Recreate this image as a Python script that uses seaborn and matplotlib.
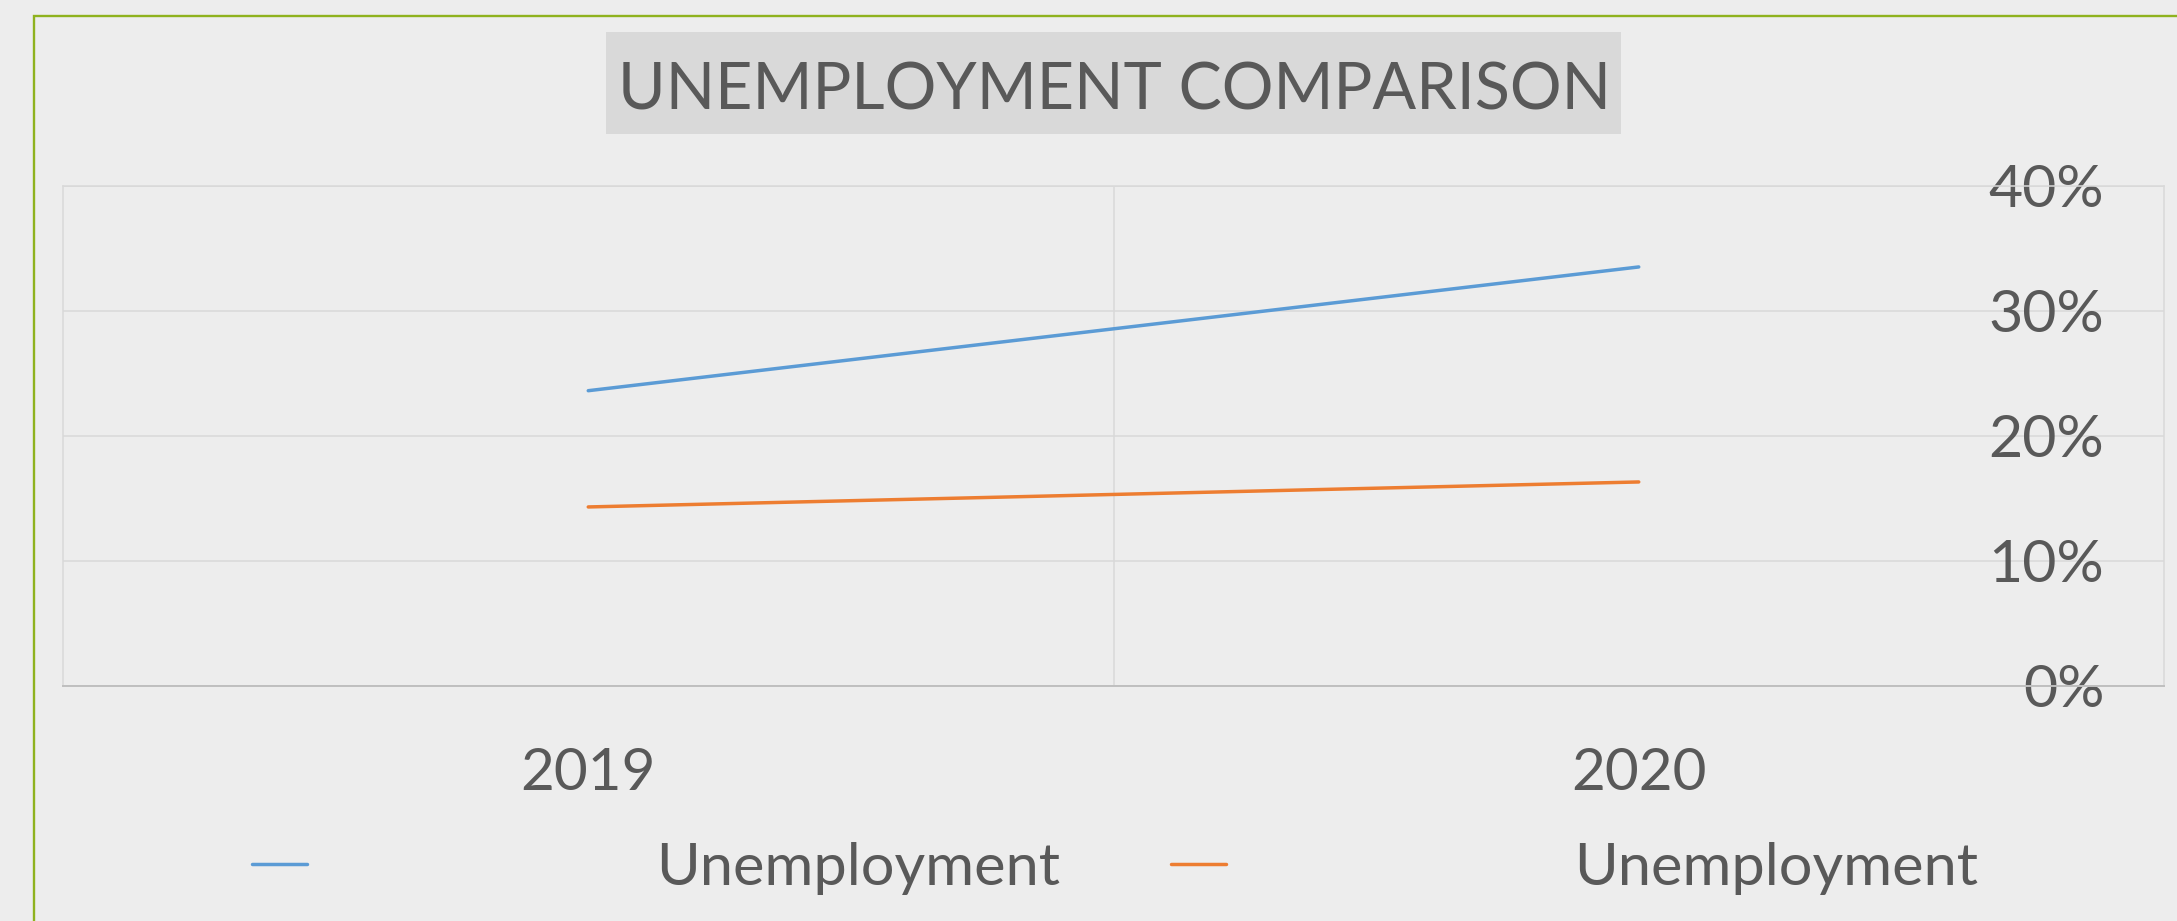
import matplotlib
matplotlib.use("Agg")
import matplotlib.pyplot as plt
from matplotlib.patches import Rectangle
from matplotlib.ticker import PercentFormatter
import seaborn as sns
import pandas as pd

# Data
years = ["2019", "2020"]
rate_a = [0.236, 0.335]
rate_b = [0.143, 0.163]
series_names = ["Unemployment", "Unemployment"]
series_colors = ["#5B9BD5", "#ED7D31"]
y_ticks = [0.0, 0.1, 0.2, 0.3, 0.4]
title = "UNEMPLOYMENT COMPARISON"

BG = "#EDEDED"
TEXT = "#595959"
GRID = "#D9D9D9"
AXIS = "#BFBFBF"
FRAME = "#8FB21E"

sns.set_theme(style="white")
plt.rcParams["font.family"] = ["Lato", "DejaVu Sans"]

W, H = 2177, 921
fig = plt.figure(figsize=(W / 100, H / 100), dpi=100, facecolor=BG)

# outer chart frame (runs off the right and bottom edges)
fig.add_artist(Rectangle((33.7 / W, -0.05), 1.2, 1 - 15.7 / H + 0.05,
                         transform=fig.transFigure, fill=False,
                         edgecolor=FRAME, linewidth=1.7, clip_on=False))

# title with shaded box
fig.add_artist(Rectangle((606 / W, 1 - 134 / H), (1621 - 606) / W, (134 - 32) / H,
                         transform=fig.transFigure, facecolor="#D9D9D9",
                         edgecolor="none"))
fig.text(1114 / W, 1 - 109.4 / H, title, ha="center", va="baseline",
         fontsize=46.6, color=TEXT)

ax = fig.add_axes([63 / W, 1 - 685.7 / H, (2164 - 63) / W, (685.7 - 185.7) / H])
ax.set_facecolor(BG)

positions = list(range(len(years)))
for vals, name, color in zip([rate_a, rate_b], series_names, series_colors):
    df = pd.DataFrame({"pos": positions, "rate": vals})
    sns.lineplot(data=df, x="pos", y="rate", ax=ax, color=color,
                 linewidth=2.5, legend=False, solid_capstyle="round")

ax.set_xlim(-0.5, len(years) - 0.5)
ax.set_ylim(y_ticks[0], y_ticks[-1])
ax.set_xticks(positions)
ax.set_xticklabels(years)
ax.set_xticks([p + 0.5 for p in positions[:-1]], minor=True)
ax.set_yticks(y_ticks)
ax.yaxis.set_major_formatter(PercentFormatter(1.0, decimals=0))
ax.set_xlabel("")
ax.set_ylabel("")

ax.grid(axis="y", which="major", color=GRID, linewidth=1.1)
ax.grid(axis="x", which="minor", color=GRID, linewidth=1.1)
ax.grid(axis="x", which="major", visible=False)
ax.set_axisbelow(True)

for side in ["left", "top", "right"]:
    ax.spines[side].set_visible(True)
    ax.spines[side].set_color(GRID)
    ax.spines[side].set_linewidth(1.1)
ax.spines["bottom"].set_visible(True)
ax.spines["bottom"].set_color(AXIS)
ax.spines["bottom"].set_linewidth(1.4)

ax.tick_params(axis="x", which="both", length=0, pad=44, labelsize=42, labelcolor=TEXT)
ax.yaxis.tick_right()
ax.tick_params(axis="y", which="both", length=0, pad=-43, labelsize=42.5, labelcolor=TEXT)
for lbl in ax.get_yticklabels():
    lbl.set_horizontalalignment("right")

lines = ax.get_lines()[:len(series_names)]
fig.legend(handles=lines, labels=series_names, ncol=2, loc="center left",
           bbox_to_anchor=(252 / W, 1 - 868 / H), frameon=False,
           fontsize=42.8, handlelength=0.926, handletextpad=5.87,
           columnspacing=1.86, borderpad=0, borderaxespad=0,
           labelcolor=TEXT)

fig.savefig("out.png", dpi=100, facecolor=BG)
